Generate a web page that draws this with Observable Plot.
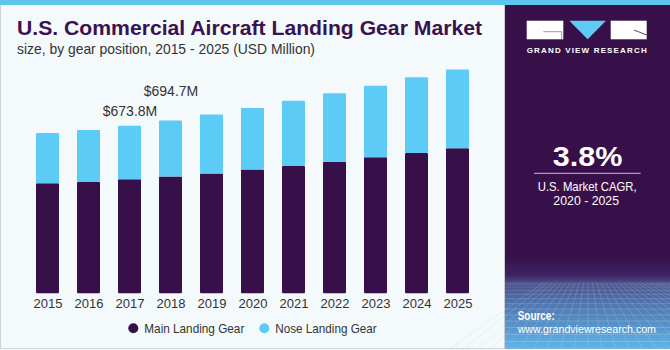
<!DOCTYPE html>
<html>
<head>
<meta charset="utf-8">
<script src="https://cdn.jsdelivr.net/npm/d3@7"></script>
<script src="https://cdn.jsdelivr.net/npm/@observablehq/plot@0.6"></script>
<style>
  body { margin: 0; background: #ffffff; }
  #wrap { position: relative; width: 670px; height: 350px; overflow: hidden; background: #f4f9fc; font-family: "Liberation Sans", Arial, sans-serif; }
  #chart { position: absolute; left: 0; top: 55px; }
  #overlay { position: absolute; left: 0; top: 0; pointer-events: none; }
</style>
</head>
<body>
<div id="wrap">
  <div id="chart"></div>
  <svg id="overlay" width="670" height="350" xmlns="http://www.w3.org/2000/svg"></svg>
</div>
<script>
// ---- Data ----
const years = ["2015", "2016", "2017", "2018", "2019", "2020", "2021", "2022", "2023", "2024", "2025"];
const mainGear = [442, 447, 458, 469, 482, 498, 512, 529, 547, 564, 583];
const noseGear = [202, 209, 215.8, 225.7, 237, 247, 262, 275, 287, 304, 317];
const seriesNames = ["Main Landing Gear", "Nose Landing Gear"];
const labeledYears = ["2017", "2018"];
const labelTexts = ["$673.8M", "$694.7M"];
const titleText = "U.S. Commercial Aircraft Landing Gear Market";
const subtitleText = "size, by gear position, 2015 - 2025 (USD Million)";
const cagrValue = "3.8%";
const cagrLines = ["U.S. Market CAGR,", "2020 - 2025"];
const brandText = "GRAND VIEW RESEARCH";
const sourceLines = ["Source:", "www.grandviewresearch.com"];

const DARK = "#37104a";
const LIGHT = "#5ccbf6";

// ---- Build table ----
const rows = [];
years.forEach((y, i) => {
  rows.push({ year: y, gear: seriesNames[0], value: mainGear[i] });
  rows.push({ year: y, gear: seriesNames[1], value: noseGear[i] });
});
const totals = years.map((y, i) => ({ year: y, total: mainGear[i] + noseGear[i] }));
const labels = labeledYears.map((y, k) => ({
  year: y,
  total: totals.find(t => t.year === y).total,
  text: labelTexts[k]
}));

const chart = Plot.plot({
  width: 500,
  height: 260,
  marginLeft: 31.3,
  marginRight: 25,
  marginTop: 14.4,
  marginBottom: 21.7,
  style: { background: "transparent", fontFamily: "'Liberation Sans', Arial, sans-serif", fontSize: "13px", color: "#333" },
  x: { domain: years, paddingInner: 0.428, paddingOuter: 0, label: null },
  y: { domain: [0, 900], axis: null },
  color: { domain: seriesNames, range: [DARK, LIGHT] },
  marks: [
    Plot.barY(rows, { x: "year", y: "value", fill: "gear", rx: 1 }),
    Plot.axisX({ tickSize: 0, tickPadding: 5, fill: "#333" }),
    Plot.text([labels[0]], { x: "year", y: "total", text: "text", dy: -15, fontSize: 14, fill: "#333" }),
    Plot.text([labels[1]], { x: "year", y: "total", text: "text", dy: -29, fontSize: 14, fill: "#333" })
  ]
});
document.getElementById("chart").appendChild(chart);

// ---- Overlay: titles, legend, side panel ----
const svg = d3.select("#overlay");
const defs = svg.append("defs");
const grad = defs.append("linearGradient").attr("id", "pg").attr("x1", 0).attr("y1", 0).attr("x2", 0).attr("y2", 1);
[["0%", "#37104a"], ["72.7%", "#37104a"], ["78.5%", "#3e2262"], ["80.8%", "#4a4f8a"], ["85.7%", "#4f6ea8"], ["100%", "#60b6e6"]]
  .forEach(([o, c]) => grad.append("stop").attr("offset", o).attr("stop-color", c));

// frame
svg.append("rect").attr("x", 0.5).attr("y", 0.5).attr("width", 669).attr("height", 348).attr("fill", "none").attr("stroke", "#cfd3d6");
svg.append("rect").attr("x", 0).attr("y", 0).attr("width", 670).attr("height", 5).attr("fill", "#5cc6ef");

// title & subtitle
svg.append("text").attr("x", 17).attr("y", 35).attr("font-size", 20).attr("font-weight", 700)
  .attr("fill", "#3a1250").attr("textLength", 465).attr("lengthAdjust", "spacingAndGlyphs").text(titleText);
svg.append("text").attr("x", 17).attr("y", 53.5).attr("font-size", 15)
  .attr("fill", "#333").attr("textLength", 298).attr("lengthAdjust", "spacingAndGlyphs").text(subtitleText);

// legend
const legendItems = [
  { name: seriesNames[0], color: DARK, cx: 133.3, tx: 144.3, w: 100 },
  { name: seriesNames[1], color: LIGHT, cx: 264.3, tx: 275.3, w: 101.4 }
];
legendItems.forEach(d => {
  svg.append("circle").attr("cx", d.cx).attr("cy", 328.3).attr("r", 5).attr("fill", d.color);
  svg.append("text").attr("x", d.tx).attr("y", 332.5).attr("font-size", 13.5).attr("fill", "#333")
    .attr("textLength", d.w).attr("lengthAdjust", "spacingAndGlyphs").text(d.name);
});

// side panel
const px = 505;
svg.append("rect").attr("x", px).attr("y", 5).attr("width", 670 - px).attr("height", 344).attr("fill", "url(#pg)");
svg.append("line").attr("x1", px - 0.5).attr("x2", px - 0.5).attr("y1", 5).attr("y2", 349).attr("stroke", "#c9cdd2");
// decorative grid at the panel bottom
const grid = svg.append("g").attr("stroke", "#b8d6f0").attr("stroke-width", 0.6).attr("fill", "none");
for (let k = 0; k < 14; k++) {
  const gy = 283 + Math.pow(k / 13, 1.5) * 66;
  grid.append("line").attr("x1", px).attr("x2", 670).attr("y1", gy).attr("y2", gy).attr("stroke-opacity", 0.25 + 0.35 * k / 13);
}
for (let k = -10; k <= 22; k++) {
  grid.append("line").attr("x1", 588 + k * 4.5).attr("y1", 283).attr("x2", 588 + k * 14).attr("y2", 350).attr("stroke-opacity", 0.4);
}

// logo
const logo = svg.append("g");
logo.append("rect").attr("x", 526.7).attr("y", 20.7).attr("width", 36.6).attr("height", 18.6).attr("fill", "#ffffff");
logo.append("path").attr("d", "M543.3 31.7 H561.7 V39.3").attr("stroke", "#8a7a9a").attr("stroke-width", 0.8).attr("fill", "none");
logo.append("path").attr("d", "M569.3 20.7 L606 20.7 L587.7 39.3 Z").attr("fill", LIGHT);
logo.append("rect").attr("x", 610.7).attr("y", 20.7).attr("width", 36).attr("height", 18.6).attr("fill", "#ffffff");
logo.append("path").attr("d", "M634 30 L646.7 35").attr("stroke", "#37104a").attr("stroke-width", 0.8);
svg.append("text").attr("x", 526.7).attr("y", 53.3).attr("font-size", 8).attr("font-weight", 700).attr("fill", "#ffffff")
  .attr("textLength", 120).attr("lengthAdjust", "spacing").text(brandText);

// CAGR
svg.append("text").attr("x", 587.5).attr("y", 165.7).attr("text-anchor", "middle").attr("font-size", 28.5).attr("font-weight", 700)
  .attr("fill", "#ffffff").attr("textLength", 69.6).attr("lengthAdjust", "spacingAndGlyphs").text(cagrValue);
svg.append("line").attr("x1", 534).attr("x2", 640.7).attr("y1", 173.3).attr("y2", 173.3).attr("stroke", "#c8c0d0").attr("stroke-width", 1);
svg.append("text").attr("x", 587.2).attr("y", 190.7).attr("text-anchor", "middle").attr("font-size", 13.5).attr("fill", "#ffffff")
  .attr("textLength", 99).attr("lengthAdjust", "spacingAndGlyphs").text(cagrLines[0]);
svg.append("text").attr("x", 586.2).attr("y", 204.7).attr("text-anchor", "middle").attr("font-size", 13.5).attr("fill", "#ffffff")
  .attr("textLength", 65.7).attr("lengthAdjust", "spacingAndGlyphs").text(cagrLines[1]);

// source
svg.append("text").attr("x", 517.7).attr("y", 319.5).attr("font-size", 12.5).attr("font-weight", 700).attr("fill", "#ffffff")
  .attr("textLength", 37).attr("lengthAdjust", "spacingAndGlyphs").text(sourceLines[0]);
svg.append("text").attr("x", 517.7).attr("y", 333).attr("font-size", 10.8).attr("fill", "#ffffff")
  .attr("textLength", 138.3).attr("lengthAdjust", "spacingAndGlyphs").text(sourceLines[1]);
</script>
</body>
</html>
